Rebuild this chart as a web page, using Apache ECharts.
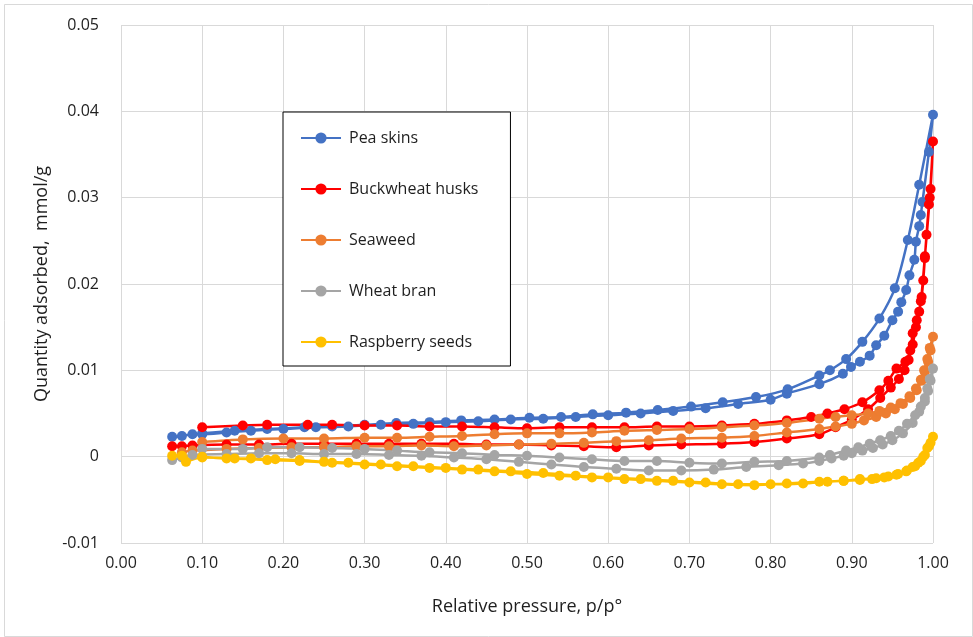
<!DOCTYPE html>
<html>
<head>
<meta charset="utf-8">
<script src="https://cdn.jsdelivr.net/npm/echarts@6/dist/echarts.min.js"></script>
<style>
  html, body { margin: 0; padding: 0; background: #fff; }
  #chart { width: 973px; height: 637px; }
</style>
</head>
<body>
<div id="chart"></div>
<script>
// Relative pressure (P) and quantity adsorbed (Q, mmol/g), adsorption then desorption branch
const peaAdsP = [0.063,0.075,0.088,0.10,0.13,0.16,0.20,0.24,0.28,0.32,0.36,0.40,0.44,0.48,0.52,0.56,0.60,0.64,0.68,0.72,0.76,0.80,0.82,0.86,0.889,0.899,0.91,0.922,0.93,0.94,0.95,0.957,0.961,0.967,0.971,0.977,0.979,0.983,0.985,0.987,0.995,1.0];
const peaAdsQ = [0.0023,0.0024,0.0026,0.0026,0.0028,0.0030,0.0032,0.0034,0.0035,0.0037,0.0038,0.0040,0.0041,0.0043,0.0044,0.0046,0.0048,0.0050,0.0053,0.0056,0.0061,0.0066,0.0073,0.0084,0.0096,0.0104,0.0110,0.0117,0.0129,0.0140,0.0158,0.0168,0.0179,0.0193,0.0210,0.0228,0.0249,0.0267,0.0280,0.0295,0.0353,0.0396];
const peaDesP = [0.983,0.969,0.953,0.934,0.913,0.893,0.873,0.860,0.821,0.782,0.741,0.702,0.661,0.622,0.581,0.542,0.503,0.46,0.419,0.38,0.339,0.30,0.26,0.226,0.18,0.14,0.10];
const peaDesQ = [0.0315,0.0251,0.0195,0.0160,0.0133,0.0113,0.0100,0.0094,0.0078,0.0069,0.0063,0.0058,0.0054,0.0051,0.0049,0.0046,0.0045,0.0043,0.0042,0.0040,0.0039,0.0037,0.0035,0.0034,0.0032,0.0030,0.0027];

const buckAdsP = [0.063,0.075,0.088,0.13,0.17,0.21,0.25,0.29,0.33,0.37,0.41,0.45,0.49,0.53,0.57,0.61,0.65,0.69,0.74,0.78,0.82,0.86,0.88,0.90,0.92,0.935,0.948,0.958,0.965,0.970,0.975,0.979,0.983,0.986,0.988,0.990,0.992,0.995,0.997,1.0];
const buckAdsQ = [0.0012,0.0012,0.0013,0.0014,0.0014,0.0015,0.0015,0.0015,0.0015,0.0015,0.0015,0.0014,0.0014,0.0013,0.0012,0.0011,0.0013,0.0014,0.0015,0.0017,0.0021,0.0026,0.0034,0.0043,0.0055,0.0068,0.0080,0.0090,0.0100,0.0112,0.0130,0.0150,0.0168,0.0185,0.0204,0.0230,0.0257,0.0292,0.0310,0.0365];
const buckDesP = [0.996,0.99,0.985,0.98,0.975,0.972,0.966,0.955,0.945,0.934,0.913,0.891,0.87,0.85,0.82,0.78,0.74,0.70,0.66,0.62,0.58,0.54,0.50,0.46,0.42,0.38,0.34,0.30,0.26,0.23,0.18,0.15,0.10];
const buckDesQ = [0.0300,0.0232,0.0180,0.0158,0.0143,0.0123,0.0110,0.0102,0.0088,0.0077,0.0063,0.0055,0.0050,0.0046,0.0042,0.0038,0.0036,0.0035,0.0035,0.0034,0.0034,0.0034,0.0033,0.0034,0.0035,0.0035,0.0036,0.0036,0.0037,0.0037,0.0037,0.0036,0.0034];

const seaAdsP = [0.075,0.088,0.13,0.17,0.21,0.25,0.29,0.33,0.37,0.41,0.45,0.49,0.53,0.57,0.61,0.65,0.69,0.74,0.78,0.82,0.86,0.88,0.90,0.915,0.93,0.942,0.953,0.963,0.972,0.98,0.986,0.99,0.994,0.997,1.0];
const seaAdsQ = [0.0005,0.0007,0.0009,0.0010,0.0011,0.0011,0.0012,0.0012,0.0013,0.0012,0.0013,0.0014,0.0015,0.0016,0.0018,0.0019,0.0021,0.0022,0.0024,0.0028,0.0032,0.0035,0.0038,0.0042,0.0046,0.0050,0.0055,0.0061,0.0068,0.0077,0.0088,0.0098,0.0110,0.0123,0.0139];
const seaDesP = [0.996,0.993,0.989,0.985,0.979,0.971,0.96,0.948,0.934,0.92,0.90,0.88,0.86,0.82,0.78,0.74,0.70,0.66,0.62,0.58,0.54,0.50,0.46,0.42,0.38,0.34,0.30,0.25,0.20,0.15,0.10];
const seaDesQ = [0.0126,0.0113,0.0100,0.0089,0.0079,0.0070,0.0062,0.0057,0.0053,0.0050,0.0048,0.0046,0.0044,0.0039,0.0036,0.0034,0.0032,0.0031,0.0030,0.0028,0.0027,0.0027,0.0026,0.0024,0.0023,0.0022,0.0022,0.0021,0.0021,0.0020,0.0017];

const branAdsP = [0.063,0.075,0.088,0.13,0.17,0.21,0.25,0.29,0.33,0.37,0.41,0.45,0.49,0.53,0.57,0.61,0.65,0.69,0.73,0.77,0.81,0.84,0.86,0.875,0.89,0.90,0.913,0.926,0.938,0.95,0.963,0.975,0.983,0.99,0.994,0.997,1.0];
const branAdsQ = [-0.0004,-0.0001,0.0002,0.0003,0.0004,0.0004,0.0003,0.0003,0.0002,0.0001,-0.0001,-0.0003,-0.0006,-0.0009,-0.0012,-0.0014,-0.0016,-0.0016,-0.0015,-0.0012,-0.0010,-0.0008,-0.0005,-0.0002,0.0001,0.0004,0.0007,0.0010,0.0014,0.0019,0.0027,0.0039,0.0052,0.0064,0.0076,0.0088,0.0102];
const branDesP = [0.996,0.993,0.99,0.985,0.978,0.968,0.958,0.948,0.935,0.922,0.908,0.893,0.873,0.86,0.82,0.78,0.74,0.70,0.66,0.62,0.58,0.54,0.50,0.46,0.42,0.38,0.34,0.30,0.26,0.22,0.18,0.15,0.10];
const branDesQ = [0.0090,0.0079,0.0068,0.0058,0.0048,0.0038,0.0030,0.0024,0.0019,0.0015,0.0011,0.0007,0.0002,-0.0001,-0.0005,-0.0006,-0.0008,-0.0007,-0.0005,-0.0005,-0.0003,-0.0001,0.0001,0.0002,0.0004,0.0005,0.0007,0.0009,0.0010,0.0011,0.0011,0.0009,0.0009];

const raspAdsP = [0.063,0.075,0.10,0.13,0.16,0.19,0.22,0.25,0.28,0.32,0.36,0.40,0.44,0.48,0.52,0.56,0.60,0.64,0.68,0.72,0.76,0.80,0.84,0.87,0.89,0.91,0.925,0.94,0.955,0.967,0.975,0.982,0.988,0.993,0.997,1.0];
const raspAdsQ = [0.0001,0.0001,0.0000,-0.0002,-0.0002,-0.0003,-0.0004,-0.0006,-0.0007,-0.0009,-0.0011,-0.0013,-0.0015,-0.0017,-0.0019,-0.0022,-0.0024,-0.0026,-0.0028,-0.0030,-0.0032,-0.0032,-0.0031,-0.0029,-0.0028,-0.0027,-0.0026,-0.0024,-0.0021,-0.0017,-0.0012,-0.0007,0.0000,0.0010,0.0016,0.0023];
const raspDesP = [0.995,0.99,0.985,0.978,0.968,0.957,0.945,0.93,0.91,0.89,0.86,0.82,0.78,0.74,0.70,0.66,0.62,0.58,0.54,0.50,0.46,0.42,0.38,0.34,0.30,0.26,0.22,0.18,0.14,0.10,0.08];
const raspDesQ = [0.0012,0.0002,-0.0005,-0.0011,-0.0016,-0.0020,-0.0023,-0.0025,-0.0026,-0.0028,-0.0029,-0.0031,-0.0033,-0.0032,-0.0030,-0.0028,-0.0026,-0.0024,-0.0022,-0.0020,-0.0017,-0.0015,-0.0013,-0.0011,-0.0009,-0.0007,-0.0005,-0.0004,-0.0002,-0.0001,-0.0006];

const materials = [
  { name: 'Pea skins',       color: '#4472C4', ads: [peaAdsP, peaAdsQ],   des: [peaDesP, peaDesQ] },
  { name: 'Buckwheat husks', color: '#FF0000', ads: [buckAdsP, buckAdsQ], des: [buckDesP, buckDesQ] },
  { name: 'Seaweed',         color: '#ED7D31', ads: [seaAdsP, seaAdsQ],   des: [seaDesP, seaDesQ] },
  { name: 'Wheat bran',      color: '#A5A5A5', ads: [branAdsP, branAdsQ], des: [branDesP, branDesQ] },
  { name: 'Raspberry seeds', color: '#FFC000', ads: [raspAdsP, raspAdsQ], des: [raspDesP, raspDesQ] }
];

function zip(p, q) { return p.map((v, i) => [v, q[i]]); }

const font = 'Open Sans, Liberation Sans, sans-serif';
const textColor = '#1f1f1f';

const series = materials.map(m => ({
  name: m.name,
  type: 'line',
  data: zip(m.ads[0], m.ads[1]).concat(zip(m.des[0], m.des[1])),
  smooth: 0.3,
  symbol: 'circle',
  symbolSize: 10,
  showAllSymbol: true,
  color: m.color,
  lineStyle: { width: 2.5, color: m.color },
  itemStyle: { color: m.color },
  emphasis: { disabled: true },
  animation: false
}));

const chart = echarts.init(document.getElementById('chart'), null, { renderer: 'canvas' });
chart.setOption({
  animation: false,
  backgroundColor: '#ffffff',
  grid: { left: 121, right: 40, top: 25, bottom: 94, containLabel: false },
  xAxis: {
    type: 'value', min: 0, max: 1, interval: 0.1,
    name: 'Relative pressure, p/p°', nameLocation: 'middle', nameGap: 55,
    nameTextStyle: { fontFamily: font, fontSize: 18, color: textColor },
    axisLine: { show: false }, axisTick: { show: false },
    axisLabel: { fontFamily: font, fontSize: 16, color: textColor, margin: 12,
      formatter: v => v.toFixed(2) },
    splitLine: { show: true, lineStyle: { color: '#D9D9D9', width: 1 } }
  },
  yAxis: {
    type: 'value', min: -0.01, max: 0.05, interval: 0.01,
    name: 'Quantity adsorbed,  mmol/g', nameLocation: 'middle', nameGap: 68,
    nameTextStyle: { fontFamily: font, fontSize: 18, color: textColor },
    axisLine: { show: false }, axisTick: { show: false },
    axisLabel: { fontFamily: font, fontSize: 16, color: textColor, margin: 22,
      formatter: v => (Math.abs(v) < 1e-9 ? '0' : v.toFixed(2)) },
    splitLine: { show: true, lineStyle: { color: '#D9D9D9', width: 1 } }
  },
  legend: {
    orient: 'vertical', left: 283, top: 112,
    padding: [18, 32, 16, 17],
    itemGap: 35, itemWidth: 40, itemHeight: 14,
    backgroundColor: '#ffffff', borderColor: '#000000', borderWidth: 1,
    textStyle: { fontFamily: font, fontSize: 16, color: textColor, padding: [0, 0, 0, 3] },
    data: materials.map(m => m.name)
  },
  graphic: [{
    type: 'rect', left: 2, top: 2, silent: true,
    shape: { width: 968, height: 632 },
    style: { fill: 'none', stroke: '#D9D9D9', lineWidth: 1 }
  }],
  series: series
});
</script>
</body>
</html>
